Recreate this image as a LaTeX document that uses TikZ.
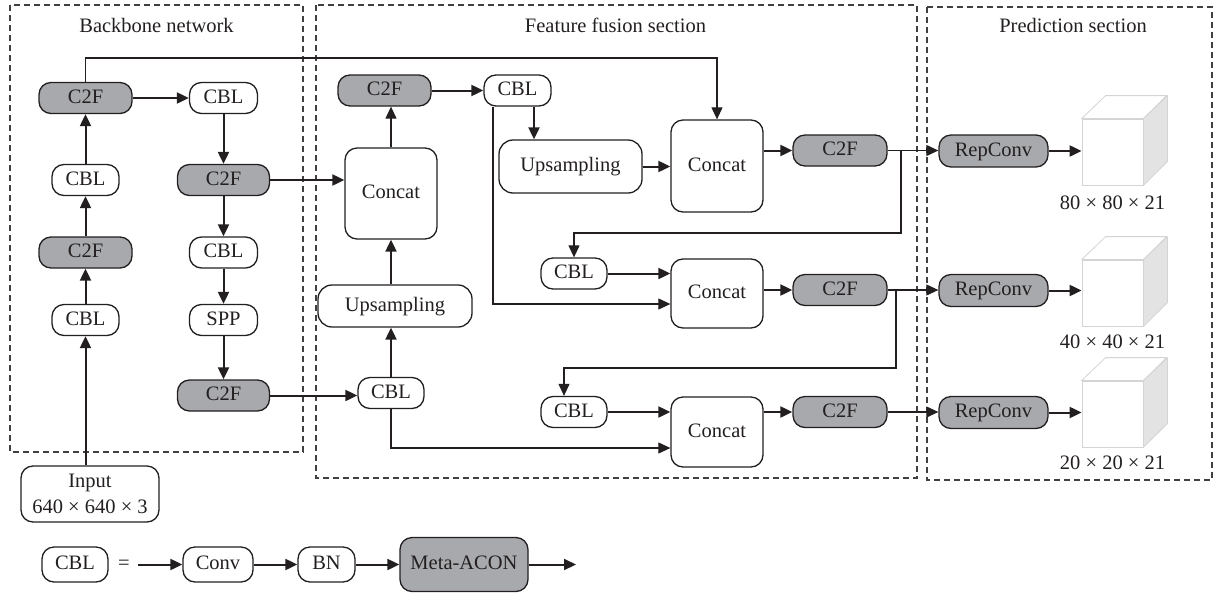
\documentclass[tikz,border=0pt]{standalone}
\usepackage{fontspec}
\setmainfont{Liberation Serif}
\usetikzlibrary{arrows.meta,calc}
\definecolor{ink}{HTML}{231F20}
\definecolor{fillg}{HTML}{A7A9AC}
\definecolor{dashc}{HTML}{404040}
\definecolor{cubeedge}{HTML}{D4D4D4}
\definecolor{cubeside}{HTML}{E3E3E3}

\begin{document}
\begin{tikzpicture}[x=1pt,y=-1pt,
  every node/.style={font=\fontsize{20.5}{26}\selectfont, text=ink},
  blkbase/.style={draw=ink, line width=1.3pt, rounded corners=12pt, inner sep=0pt,
    minimum height=31pt, align=center},
  blk/.style={blkbase, text height=14pt, text depth=4pt},
  wblk/.style={blk, fill=white},
  gblk/.style={blk, fill=fillg},
  sect/.style={draw=dashc, line width=1.1pt, dash pattern=on 6pt off 4pt},
  tipa/.tip={Triangle[length=12pt,width=11pt]},
  arr/.style={draw=ink, line width=2pt, -tipa},
  thinarr/.style={draw=ink, line width=1.1pt, -tipa},
  cubeface/.style={draw=cubeedge, fill=white, line width=0.8pt, inner sep=0pt,
    minimum width=61pt, minimum height=66pt},
  cubeline/.style={draw=cubeedge, line width=0.8pt, line join=round},
]
\useasboundingbox (0,0) rectangle (1215,592);

% section frames and titles
\draw[sect] (10,5) rectangle (303,452);
\draw[sect] (316,5) rectangle (917,478);
\draw[sect] (927,7) rectangle (1212,480);
\node (t1) at (156.5,25) {Backbone network};
\node (t2) at (615.5,25) {Feature fusion section};
\node (t3) at (1073,25) {Prediction section};

% backbone
\node[gblk, minimum width=93pt] (b1) at (85.5,98) {C2F};
\node[wblk, minimum width=68pt] (b2) at (223.5,98) {CBL};
\node[wblk, minimum width=67pt] (b3) at (85.5,180) {CBL};
\node[gblk, minimum width=92pt] (b4) at (223.5,180) {C2F};
\node[gblk, minimum width=93pt] (b5) at (85.5,252.5) {C2F};
\node[wblk, minimum width=68pt] (b6) at (223.5,252.5) {CBL};
\node[wblk, minimum width=67pt] (b7) at (85.5,320) {CBL};
\node[wblk, minimum width=68pt] (b8) at (223.5,320) {SPP};
\node[gblk, minimum width=92pt] (b9) at (223.5,395.5) {C2F};
\node[blkbase, fill=white, minimum width=138pt, minimum height=56pt] (inp) at (90,494)
  {Input\\640 × 640 × 3};

\draw[arr] (b7 |- inp.north) -- (b7.south);
\draw[arr] (b7) -- (b5);
\draw[arr] (b5) -- (b3);
\draw[arr] (b3) -- (b1);
\draw[arr] (b1) -- (b2);
\draw[arr] (b2) -- (b4);
\draw[arr] (b4) -- (b6);
\draw[arr] (b6) -- (b8);
\draw[arr] (b8) -- (b9);

% feature fusion
\node[gblk, minimum width=93pt] (f1) at (384.5,90.5) {C2F};
\node[wblk, minimum width=67pt] (f2) at (517.5,90.5) {CBL};
\node[wblk, minimum width=92pt, minimum height=91pt] (f3) at (391,193.5) {Concat};
\node[wblk, minimum width=143pt, minimum height=53pt, rounded corners=14pt] (f4) at (570.5,166.5) {Upsampling};
\node[wblk, minimum width=92pt, minimum height=92pt] (f5) at (717,166) {Concat};
\node[gblk, minimum width=94pt] (f6) at (840,150.5) {C2F};
\node[wblk, minimum width=66pt] (f7) at (574,273.5) {CBL};
\node[wblk, minimum width=92pt, minimum height=69pt] (f8) at (717,293.5) {Concat};
\node[gblk, minimum width=94pt] (f9) at (840,290) {C2F};
\node[wblk, minimum width=154pt, minimum height=42pt, rounded corners=14pt] (f10) at (395,306) {Upsampling};
\node[wblk, minimum width=66pt] (f11) at (391,393) {CBL};
\node[wblk, minimum width=66pt] (f12) at (574,412) {CBL};
\node[wblk, minimum width=92pt, minimum height=70pt] (f13) at (717,432) {Concat};
\node[gblk, minimum width=94pt] (f14) at (840,412) {C2F};

% prediction heads
\node[gblk, minimum width=109pt, minimum height=32pt] (r1) at (993.5,151) {RepConv};
\node[gblk, minimum width=109pt, minimum height=32pt] (r2) at (993.5,290.5) {RepConv};
\node[gblk, minimum width=109pt, minimum height=32pt] (r3) at (993.5,412.5) {RepConv};

\node[cubeface] (c1) at (1112.5,152) {};
\node[cubeface] (c2) at (1112.5,293) {};
\node[cubeface] (c3) at (1112.5,414) {};
\foreach \c in {c1,c2,c3}{
  \draw[cubeline, fill=white] (\c.north west) -- ++(24,-23) -- ++(61,0) -- (\c.north east) -- cycle;
  \draw[cubeline, fill=cubeside] (\c.north east) -- ++(24,-23) -- ++(0,66) -- (\c.south east) -- cycle;
}
\node (l1) at (1112.5,203) {80 × 80 × 21};
\node (l2) at (1112.5,342) {40 × 40 × 21};
\node (l3) at (1112.5,463) {20 × 20 × 21};

% routing points
\coordinate (k0) at (85.5,58);
\coordinate (k1) at (901,233);
\coordinate (k2) at (896,368);
\coordinate (f2a) at ($(f2.south)+(-24.5,0)$);
\coordinate (f2b) at ($(f2.south)+(16.5,0)$);
\coordinate (f8a) at ($(f8.west)+(0,10.5)$);
\coordinate (f12a) at ($(f12.north)+(-10,0)$);
\coordinate (f13a) at ($(f13.west)+(0,16)$);

% fusion connectors
\draw[thinarr] (b1.north) -- (k0) -| (f5.north);
\draw[arr] (b4.east) -- (b4.east -| f3.west);
\draw[arr] (b9.east) -- (b9.east -| f11.west);
\draw[arr] (f11.north) -- (f11.north |- f10.south);
\draw[arr] (f3.south |- f10.north) -- (f3.south);
\draw[thinarr] (f3.north) -- (f3.north |- f1.south);
\draw[arr] (f1) -- (f2);
\draw[arr] (f2b) -- (f2b |- f4.north);
\draw[thinarr] (f2a) |- (f8a);
\draw[arr] (f4.east) -- (f4.east -| f5.west);
\draw[arr] (f6.west -| f5.east) -- (f6.west);
\draw[thinarr] (f6.east) -- (f6.east -| r1.west);
\draw[thinarr] (f6.east -| k1) -- (k1) -| (f7.north);
\draw[arr] (f7.east) -- (f7.east -| f8.west);
\draw[arr] (f9.west -| f8.east) -- (f9.west);
\draw[thinarr] (f9.east) -- (f9.east -| r2.west);
\draw[thinarr] (f9.east -| k2) -- (k2) -| (f12a);
\draw[arr] (f12.east) -- (f12.east -| f13.west);
\draw[thinarr] (f11.south) |- (f13a);
\draw[arr] (f14.west -| f13.east) -- (f14.west);
\draw[thinarr] (f14.east) -- (f14.east -| r3.west);

% heads to outputs
\draw[arr] (r1.east) -- (r1.east -| c1.west);
\draw[arr] (r2.east) -- (r2.east -| c2.west);
\draw[arr] (r3.east) -- (r3.east -| c3.west);

% CBL legend
\node[wblk, minimum width=66pt, minimum height=35pt] (g1) at (75,564.5) {CBL};
\node (geq) at (124,565) {=};
\coordinate (g0) at (138,564.5);
\node[wblk, minimum width=70pt, minimum height=35pt] (g2) at (218,564.5) {Conv};
\node[wblk, minimum width=57pt, minimum height=35pt] (g3) at (326.5,564.5) {BN};
\node[gblk, minimum width=128pt, minimum height=54pt] (g4) at (464,564.5) {Meta-ACON};
\coordinate (g5) at (576,564.5);
\draw[arr] (g0) -- (g2);
\draw[arr] (g2) -- (g3);
\draw[arr] (g3) -- (g4);
\draw[arr] (g4) -- (g5);
\end{tikzpicture}
\end{document}
